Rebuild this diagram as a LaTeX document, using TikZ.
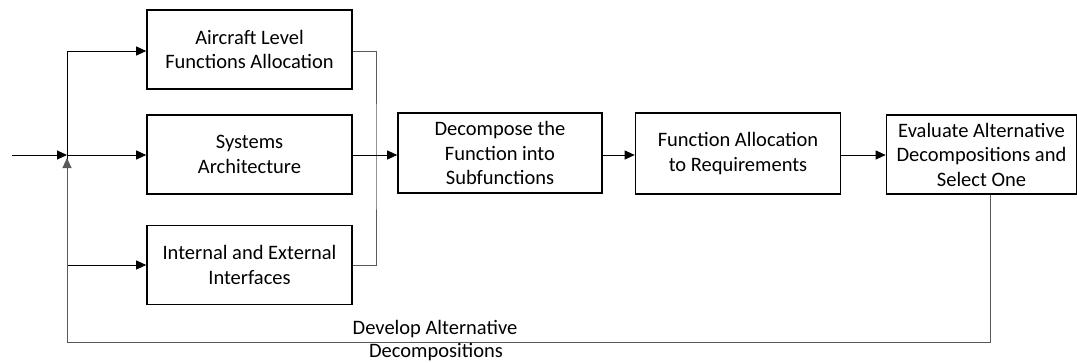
\documentclass[tikz,border=0pt]{standalone}
\usepackage{fontspec}
\setmainfont{Carlito}
\usetikzlibrary{arrows.meta}
\begin{document}
\begin{tikzpicture}[x=1pt,y=-1pt,
  blk/.style={draw,line width=1.6pt,minimum width=205pt,minimum height=79pt,align=center,font=\fontsize{20.5}{24.5}\selectfont,inner sep=0pt},
  arr/.style={line width=0.9pt,-{Triangle[length=10pt,width=9pt]}},
  ln/.style={line width=0.9pt,draw=black!65},
  lbl/.style={font=\fontsize{20.5}{24.5}\selectfont,inner sep=0pt}]
\useasboundingbox (0,0) rectangle (1077,362);
\node[blk] (a) at (249.5,49.5) {Aircraft Level\\Functions Allocation};
\node[blk] (s) at (249.5,154.5) {Systems\\Architecture};
\node[blk] (i) at (249.5,265) {Internal and External\\Interfaces};
\node[blk,minimum width=204pt,minimum height=80pt] (d) at (500,153) {Decompose the\\Function into\\Subfunctions};
\node[blk,minimum width=205pt,minimum height=81pt] (f) at (738,153.5) {Function Allocation\\to Requirements};
\node[blk,minimum width=190pt,minimum height=79pt] (e) at (981.5,154.5) {Evaluate Alternative\\Decompositions and\\Select One};
\coordinate (in) at (12,155);
\coordinate (j) at (67,155);
\coordinate (jt) at (67,51);
\coordinate (jb) at (67,265);
\coordinate (fb) at (67,342);
\coordinate (m) at (376,155);
\coordinate (ebot) at (990,342);
\draw[arr] (in) -- (j);
\draw[line width=0.9pt] (jt) -- (jb);
\draw[arr] (jt) -- (jt -| a.west);
\draw[arr] (j) -- (j -| s.west);
\draw[arr] (jb) -- (jb -| i.west);
\draw[ln] (a.east |- jt) -| (m) |- (i.east |- jb);
\draw[arr] (j -| s.east) -- (j -| d.west);
\draw[arr] (j -| d.east) -- (j -| f.west);
\draw[arr] (j -| f.east) -- (j -| e.west);
\draw[ln] (e.south -| ebot) -- (ebot) -- (fb);
\draw[arr,draw=black!65,fill=black] (fb) -- (67,158);
\node[lbl] (t1) at (435,329) {Develop Alternative};
\node[lbl] (t2) at (436,352) {Decompositions};
\end{tikzpicture}
\end{document}
